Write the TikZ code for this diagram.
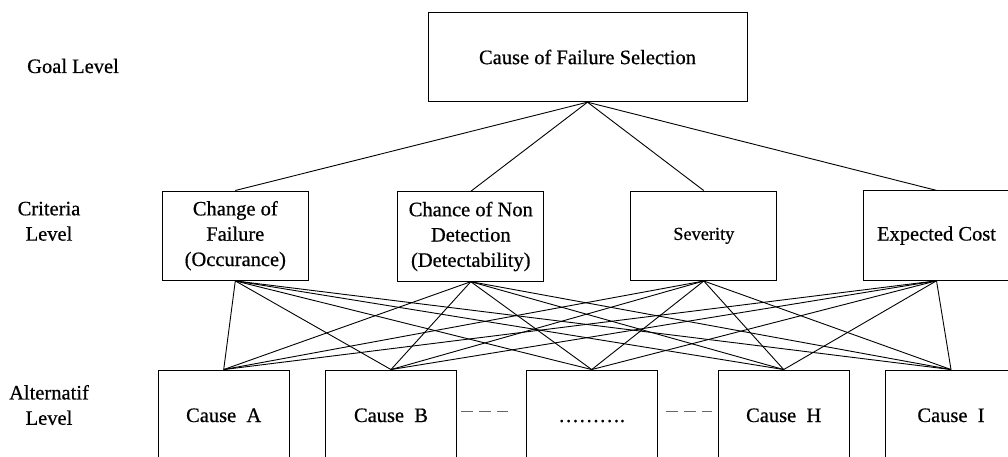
\documentclass[tikz,border=0pt]{standalone}
\usepackage{fontspec}
\setmainfont{Liberation Serif}[FakeBold=0.6]
\newcommand\mainsz{\fontsize{20.5pt}{25.3pt}\selectfont}
\newcommand\smallsz{\fontsize{18.3pt}{22pt}\selectfont}
\begin{document}
\begin{tikzpicture}[x=1pt,y=-1pt,
  box/.style={draw, line width=0.9pt, inner sep=0pt, align=center, font=\mainsz},
  critbox/.style={box, minimum width=146pt, minimum height=89.5pt},
  altbox/.style={box, minimum width=130.5pt, minimum height=90pt, text height=14pt, text depth=0pt},
  link/.style={line width=0.9pt},
  dashline/.style={line width=1.1pt, black!60, dash pattern=on 11.7pt off 6pt},
  lbl/.style={inner sep=0pt, align=center, font=\mainsz}]
\path[use as bounding box] (0,0) rectangle (1008,457);
\clip (0,0) rectangle (1008,457);
\fill[white] (0,0) rectangle (1008,457);

% goal
\node[box, minimum width=319pt, minimum height=89.5pt] (goal) at (587.5,57) {Cause of Failure Selection};

% criteria
\node[critbox] (c1) at (235.3,235.7) {Change of\\Failure\\(Occurance)};
\node[critbox] (c2) at (470.8,236.5) {Chance of Non\\Detection\\(Detectability)};
\node[critbox] (c3) at (703.8,235.8) {\smallsz Severity};
\node[critbox] (c4) at (936.5,235.6) {Expected Cost};

% alternatives
\node[altbox] (a1) at (223.7,415) {Cause\ \ A};
\node[altbox] (a2) at (391,415) {Cause\ \ B};
\node[altbox] (a3) at (591.7,415) {……….};
\node[altbox] (a4) at (783.7,415) {Cause\ \ H};
\node[altbox] (a5) at (951,415) {Cause\ \ I};

% level labels
\node[lbl, anchor=base west] (gl) at (27,73) {Goal Level};
\node[lbl] (cl) at (49,221.3) {Criteria\\Level};
\node[lbl] (al) at (49,405) {Alternatif\\Level};

% connectors
\foreach \c in {c1,c2,c3,c4}
  \draw[link] (goal.south) -- (\c.north);
\foreach \c in {c1,c2,c3,c4}
  \foreach \a in {a1,a2,a3,a4,a5}
    \draw[link] (\c.south) -- (\a.north);

% dashed continuation marks
\draw[dashline] ([xshift=4.75pt,yshift=3.3pt]a2.east) -- ([xshift=-18.1pt,yshift=3.3pt]a3.west);
\draw[dashline] ([xshift=8.75pt,yshift=3.3pt]a3.east) -- ([xshift=-5.75pt,yshift=3.3pt]a4.west);
\end{tikzpicture}
\end{document}
